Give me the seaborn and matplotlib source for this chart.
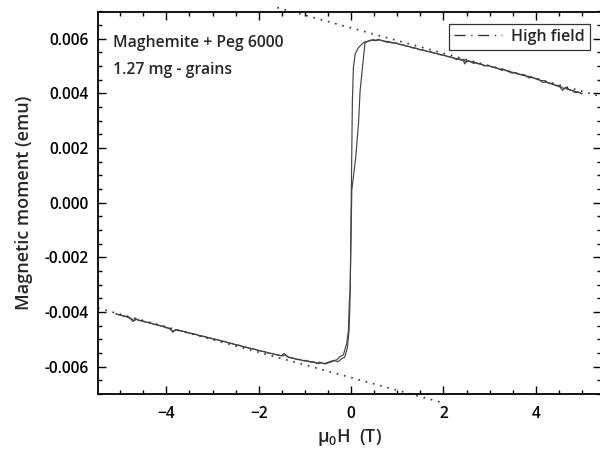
import numpy as np
import pandas as pd
import matplotlib
matplotlib.use("Agg")
import matplotlib.pyplot as plt
from matplotlib.lines import Line2D
from matplotlib.ticker import MultipleLocator, FixedLocator, FormatStrFormatter
import seaborn as sns

# ---- Descending branch (field swept from +5 T down to -5 T) ----
desc_hi_field = [5.00, 4.92, 4.85, 4.78, 4.70, 4.63, 4.58, 4.52, 4.45, 4.38, 4.30, 4.22, 4.15,
                 4.08, 4.00, 3.92, 3.85, 3.78, 3.70, 3.62, 3.55, 3.48, 3.40, 3.32, 3.25, 3.18,
                 3.10, 3.02, 2.95, 2.88, 2.80, 2.72, 2.65, 2.58, 2.50, 2.46, 2.42, 2.35, 2.28,
                 2.20, 2.12, 2.05, 1.98, 1.90, 1.82, 1.75, 1.68, 1.60, 1.52, 1.45, 1.38, 1.30,
                 1.22, 1.15, 1.08, 1.00, 0.92, 0.85, 0.78, 0.70, 0.62, 0.55, 0.48, 0.40]
desc_hi_moment = [0.00398, 0.00405, 0.00403, 0.00411, 0.00414, 0.00420, 0.00411, 0.00424,
                  0.00428, 0.00433, 0.00436, 0.00442, 0.00440, 0.00449, 0.00453, 0.00459,
                  0.00457, 0.00465, 0.00467, 0.00471, 0.00476, 0.00474, 0.00482, 0.00487,
                  0.00485, 0.00492, 0.00496, 0.00499, 0.00503, 0.00501, 0.00508, 0.00512,
                  0.00510, 0.00517, 0.00521, 0.00508, 0.00523, 0.00526, 0.00524, 0.00531,
                  0.00535, 0.00537, 0.00541, 0.00544, 0.00547, 0.00550, 0.00553, 0.00557,
                  0.00560, 0.00562, 0.00567, 0.00569, 0.00573, 0.00576, 0.00578, 0.00583,
                  0.00585, 0.00588, 0.00587, 0.00592, 0.00596, 0.00594, 0.00597, 0.00592]
desc_knee_field = [0.30, 0.25, 0.16, 0.087, 0.05, 0.028, 0.015, 0.0, -0.01, -0.02, -0.037,
                   -0.058, -0.093, -0.167, -0.24, -0.31, -0.42]
desc_knee_moment = [0.00589, 0.00583, 0.00568, 0.00544, 0.00495, 0.00374, 0.00190, 0.00010,
                    -0.00150, -0.00320, -0.00356, -0.00466, -0.00513, -0.00557, -0.00563,
                    -0.00575, -0.00579]
desc_lo_field = [-0.53, -0.60, -0.68, -0.75, -0.82, -0.90, -0.98, -1.05, -1.12, -1.20, -1.28,
                 -1.35, -1.42, -1.48, -1.55, -1.62, -1.70, -1.78, -1.85, -1.92, -2.00, -2.08,
                 -2.15, -2.22, -2.30, -2.38, -2.45, -2.52, -2.60, -2.68, -2.75, -2.82, -2.90,
                 -2.98, -3.05, -3.12, -3.20, -3.28, -3.35, -3.42, -3.50, -3.58, -3.65, -3.72,
                 -3.80, -3.86, -3.92, -4.00, -4.08, -4.15, -4.22, -4.30, -4.38, -4.45, -4.52,
                 -4.60, -4.66, -4.72, -4.78, -4.85, -4.92, -5.00, -5.08]
desc_lo_moment = [-0.00586, -0.00589, -0.00583, -0.00588, -0.00582, -0.00581, -0.00577,
                  -0.00578, -0.00573, -0.00572, -0.00567, -0.00566, -0.00556, -0.00561,
                  -0.00558, -0.00556, -0.00552, -0.00551, -0.00546, -0.00544, -0.00541,
                  -0.00537, -0.00534, -0.00532, -0.00528, -0.00525, -0.00521, -0.00519,
                  -0.00515, -0.00512, -0.00507, -0.00506, -0.00501, -0.00499, -0.00495,
                  -0.00493, -0.00489, -0.00486, -0.00482, -0.00480, -0.00477, -0.00473,
                  -0.00470, -0.00468, -0.00464, -0.00474, -0.00460, -0.00458, -0.00452,
                  -0.00450, -0.00446, -0.00443, -0.00439, -0.00437, -0.00433, -0.00431,
                  -0.00424, -0.00435, -0.00424, -0.00418, -0.00416, -0.00411, -0.00408]

# ---- Ascending branch (field swept from -5 T back up to +5 T) ----
asc_lo_field = [-5.10, -5.02, -4.95, -4.88, -4.80, -4.74, -4.70, -4.64, -4.56, -4.48, -4.41,
                -4.34, -4.26, -4.19, -4.11, -4.04, -3.96, -3.89, -3.84, -3.78, -3.69, -3.62,
                -3.54, -3.46, -3.39, -3.31, -3.24, -3.16, -3.09, -3.01, -2.94, -2.86, -2.79,
                -2.71, -2.64, -2.56, -2.49, -2.41, -2.34, -2.26, -2.19, -2.11, -2.04, -1.96,
                -1.89, -1.81, -1.74, -1.66, -1.59, -1.51, -1.45, -1.39, -1.31, -1.24, -1.16,
                -1.09, -1.01, -0.94, -0.86, -0.79, -0.71, -0.64, -0.56]
asc_lo_moment = [-0.00406, -0.00410, -0.00413, -0.00415, -0.00420, -0.00426, -0.00431,
                 -0.00427, -0.00431, -0.00434, -0.00438, -0.00440, -0.00445, -0.00447,
                 -0.00451, -0.00454, -0.00458, -0.00466, -0.00470, -0.00465, -0.00469,
                 -0.00471, -0.00476, -0.00478, -0.00481, -0.00485, -0.00488, -0.00490,
                 -0.00494, -0.00497, -0.00500, -0.00503, -0.00507, -0.00509, -0.00513,
                 -0.00516, -0.00520, -0.00522, -0.00527, -0.00529, -0.00533, -0.00535,
                 -0.00539, -0.00542, -0.00545, -0.00549, -0.00551, -0.00555, -0.00557,
                 -0.00560, -0.00552, -0.00563, -0.00568, -0.00570, -0.00574, -0.00575,
                 -0.00579, -0.00580, -0.00584, -0.00583, -0.00589, -0.00586, -0.00590]
asc_knee_field = [-0.45, -0.36, -0.28, -0.20, -0.14, -0.08, -0.045, -0.03, -0.02, 0.015, 0.10,
                  0.16, 0.195, 0.26, 0.30]
asc_knee_moment = [-0.00584, -0.00578, -0.00582, -0.00570, -0.00566, -0.00530, -0.00470,
                   -0.00400, -0.00320, 0.00045, 0.00166, 0.00290, 0.00410, 0.00520, 0.00585]
asc_hi_field = [0.36, 0.44, 0.52, 0.58, 0.66, 0.74, 0.82, 0.88, 0.96, 1.04, 1.12, 1.19, 1.26,
                1.34, 1.42, 1.49, 1.56, 1.64, 1.72, 1.79, 1.86, 1.94, 2.02, 2.09, 2.16, 2.24,
                2.32, 2.39, 2.44, 2.48, 2.54, 2.62, 2.69, 2.76, 2.84, 2.92, 2.98, 3.06, 3.14,
                3.21, 3.28, 3.36, 3.44, 3.51, 3.58, 3.66, 3.74, 3.81, 3.88, 3.96, 4.04, 4.11,
                4.18, 4.26, 4.34, 4.41, 4.48, 4.55, 4.60, 4.66, 4.74, 4.82, 4.90, 5.00]
asc_hi_moment = [0.00591, 0.00596, 0.00593, 0.00598, 0.00594, 0.00591, 0.00590, 0.00585,
                 0.00586, 0.00580, 0.00579, 0.00573, 0.00572, 0.00566, 0.00565, 0.00560,
                 0.00559, 0.00554, 0.00553, 0.00548, 0.00546, 0.00541, 0.00540, 0.00535,
                 0.00533, 0.00529, 0.00527, 0.00521, 0.00525, 0.00514, 0.00519, 0.00515,
                 0.00514, 0.00508, 0.00506, 0.00501, 0.00502, 0.00496, 0.00494, 0.00489,
                 0.00490, 0.00483, 0.00480, 0.00477, 0.00474, 0.00470, 0.00469, 0.00463,
                 0.00462, 0.00456, 0.00454, 0.00447, 0.00447, 0.00440, 0.00437, 0.00431,
                 0.00429, 0.00424, 0.00418, 0.00422, 0.00413, 0.00409, 0.00406, 0.00400]

# Linear high-field fits: moment = intercept + slope * field
fit_slope = -4.64e-4
fit_intercept_pos = 0.00640
fit_intercept_neg = -0.00640
fit_range_pos = [-1.6, 5.4]
fit_range_neg = [-5.48, 1.95]

sns.set_theme(style="ticks")
plt.rcParams["font.family"] = ["Open Sans", "DejaVu Sans"]
plt.rcParams["mathtext.fontset"] = "custom"
plt.rcParams["mathtext.rm"] = "Open Sans:semibold"
plt.rcParams["mathtext.it"] = "Open Sans:semibold"

fig = plt.figure(figsize=(6.0, 4.51), dpi=100)
ax = fig.add_axes([98 / 600, 57 / 451, 502.5 / 600, 382.5 / 451])

loop = pd.concat([
    pd.DataFrame({"field": desc_hi_field + desc_knee_field + desc_lo_field,
                  "moment": desc_hi_moment + desc_knee_moment + desc_lo_moment,
                  "branch": "down"}),
    pd.DataFrame({"field": asc_lo_field + asc_knee_field + asc_hi_field,
                  "moment": asc_lo_moment + asc_knee_moment + asc_hi_moment,
                  "branch": "up"}),
])
for name, part in loop.groupby("branch"):
    sns.lineplot(data=part, x="field", y="moment", sort=False, estimator=None,
                 color="#444444", lw=0.85, ax=ax, legend=False)

for b, rng in ((fit_intercept_pos, fit_range_pos), (fit_intercept_neg, fit_range_neg)):
    xs = np.array(rng)
    sns.lineplot(x=xs, y=b + fit_slope * xs, color="#333333", lw=1.2,
                 linestyle=(0, (1, 3.5)), ax=ax, legend=False, clip_on=False)

ax.set_xlim(-5.48, 5.40)
ax.set_ylim(-0.007, 0.007)
ax.xaxis.set_major_locator(FixedLocator([-4, -2, 0, 2, 4]))
ax.xaxis.set_minor_locator(MultipleLocator(0.5))
ax.yaxis.set_major_locator(MultipleLocator(0.002))
ax.yaxis.set_minor_locator(MultipleLocator(0.0005))
ax.yaxis.set_major_formatter(FormatStrFormatter("%.3f"))
ax.tick_params(which="both", direction="in", top=True, right=True, colors="black",
               labelsize=11.2, width=1.0)
ax.tick_params(which="major", length=6, pad=7)
ax.tick_params(axis="x", which="major", pad=9)
ax.tick_params(which="minor", length=3)
for sp in ax.spines.values():
    sp.set_linewidth(1.3)
    sp.set_color("black")
for lab in ax.get_xticklabels() + ax.get_yticklabels():
    lab.set_fontweight("semibold")

ax.set_xlabel(r"$\mathregular{\mu_0}$H  (T)", fontsize=13, labelpad=3, fontweight="semibold")
ax.set_ylabel("Magnetic moment (emu)", fontsize=13, labelpad=8, fontweight="semibold")

ax.text(0.03, 0.918, "Maghemite + Peg 6000", transform=ax.transAxes, fontsize=11.3,
        fontweight="semibold", va="center", ha="left")
ax.text(0.03, 0.847, "1.27 mg - grains", transform=ax.transAxes, fontsize=11.3,
        fontweight="semibold", va="center", ha="left")

handle = Line2D([], [], color="#333333", lw=1.0, linestyle=(0, (8, 4, 1, 4)))
leg = ax.legend([handle], ["High field"], loc="upper right", bbox_to_anchor=(0.985, 0.975),
                frameon=True, fancybox=False, fontsize=11.5, handlelength=3.0,
                borderpad=0.3, handletextpad=0.6, borderaxespad=0.2)
leg.get_frame().set_edgecolor("black")
leg.get_frame().set_linewidth(0.9)
for t in leg.get_texts():
    t.set_fontweight("semibold")

fig.savefig("out.png", dpi=100)
